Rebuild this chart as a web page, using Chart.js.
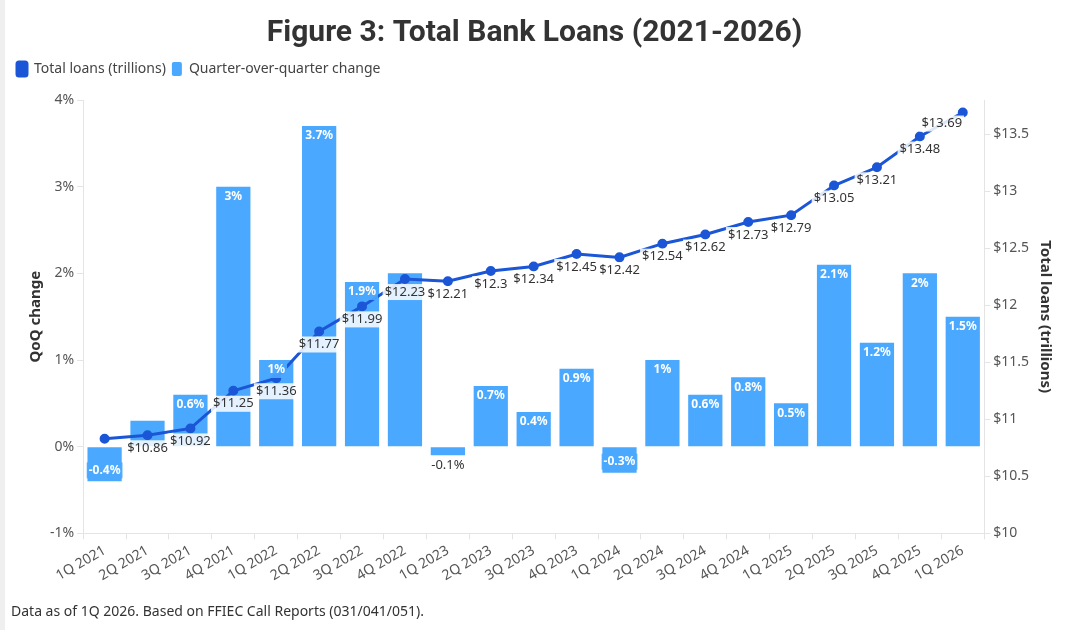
<!DOCTYPE html>
<html>
<head>
<meta charset="utf-8">
<script src="https://cdn.jsdelivr.net/npm/chart.js@4.4.1/dist/chart.umd.min.js"></script>
<style>
  body { margin: 0; background: #fff; }
  #wrap { width: 1070px; height: 630px; border-left: 5px solid #efefef; }
</style>
</head>
<body>
<div id="wrap"><canvas id="chart"></canvas></div>
<script>
const quarters = ['1Q 2021', '2Q 2021', '3Q 2021', '4Q 2021', '1Q 2022', '2Q 2022', '3Q 2022', '4Q 2022',
    '1Q 2023', '2Q 2023', '3Q 2023', '4Q 2023', '1Q 2024', '2Q 2024', '3Q 2024', '4Q 2024',
    '1Q 2025', '2Q 2025', '3Q 2025', '4Q 2025', '1Q 2026'];
const totalLoans = [10.83, 10.86, 10.92, 11.25, 11.36, 11.77, 11.99, 12.23, 12.21, 12.3, 12.34, 12.45,
    12.42, 12.54, 12.62, 12.73, 12.79, 13.05, 13.21, 13.48, 13.69];
const qoqChange = [-0.4, 0.3, 0.6, 3, 1, 3.7, 1.9, 2, -0.1, 0.7, 0.4, 0.9,
    -0.3, 1, 0.6, 0.8, 0.5, 2.1, 1.2, 2, 1.5];

const lineColor = '#1a56d6';
const barColor = '#4aa8ff';
const bodyFont = "'Noto Sans', 'Open Sans', sans-serif";

// a bit more room between the legend and the plot
const legendGap = {
    id: 'legendGap',
    beforeInit(chart) {
        const fit = chart.legend.fit;
        chart.legend.fit = function () {
            fit.call(this);
            this.height += 14;
        };
    }
};

// draws the value labels; line labels win when they overlap a bar label
const valueLabels = {
    id: 'valueLabels',
    afterDatasetsDraw(chart) {
        const ctx = chart.ctx;
        const lineMeta = chart.getDatasetMeta(0);
        const barMeta = chart.getDatasetMeta(1);
        const boxes = [];
        const hit = (b) => boxes.some(o => b.x1 < o.x2 && b.x2 > o.x1 && b.y1 < o.y2 && b.y2 > o.y1);

        ctx.save();
        ctx.textAlign = 'center';
        ctx.textBaseline = 'middle';

        const lineLabels = [];
        ctx.font = '13px ' + bodyFont;
        lineMeta.data.forEach((pt, i) => {
            if (i === 0) return;
            const text = '$' + totalLoans[i];
            let x = pt.x, y = pt.y + 13;
            if (i === lineMeta.data.length - 1) { x = pt.x - 21; y = pt.y + 11; }
            const w = ctx.measureText(text).width + 4;
            boxes.push({ x1: x - w / 2, x2: x + w / 2, y1: y - 9, y2: y + 9 });
            lineLabels.push({ text, x, y, w });
        });

        barMeta.data.forEach((bar, i) => {
            const v = qoqChange[i];
            const text = v + '%';
            ctx.font = 'bold 12px ' + bodyFont;
            const w = ctx.measureText(text).width + 4;
            let y, inside = true;
            if (Math.abs(v) < 0.2) { y = bar.y + 10; inside = false; }
            else if (v < 0) { y = bar.y - 11; }
            else { y = bar.y + 10; }
            const b = { x1: bar.x - w / 2, x2: bar.x + w / 2, y1: y - 9, y2: y + 9 };
            if (hit(b)) return;
            if (inside) {
                ctx.fillStyle = 'rgba(74,168,255,0.9)';
                ctx.fillRect(bar.x - w / 2, y - 8, w, 16);
                ctx.fillStyle = '#fff';
            } else {
                ctx.fillStyle = '#333';
                ctx.font = '13px ' + bodyFont;
            }
            ctx.fillText(text, bar.x, y);
        });

        ctx.font = '13px ' + bodyFont;
        lineLabels.forEach(l => {
            ctx.fillStyle = 'rgba(255,255,255,0.85)';
            ctx.fillRect(l.x - l.w / 2, l.y - 8, l.w, 16);
            ctx.fillStyle = '#333';
            ctx.fillText(l.text, l.x, l.y);
        });
        ctx.restore();
    }
};

new Chart(document.getElementById('chart'), {
    type: 'bar',
    data: {
        labels: quarters,
        datasets: [{
            type: 'line',
            label: 'Total loans (trillions)',
            data: totalLoans,
            yAxisID: 'y1',
            borderColor: lineColor,
            backgroundColor: lineColor,
            borderWidth: 3,
            pointRadius: 3.5,
            pointBackgroundColor: lineColor,
            order: 0
        }, {
            label: 'Quarter-over-quarter change',
            data: qoqChange,
            yAxisID: 'y',
            backgroundColor: barColor,
            barPercentage: 0.95,
            categoryPercentage: 0.84,
            order: 1
        }]
    },
    options: {
        responsive: true,
        maintainAspectRatio: false,
        animation: false,
        layout: { padding: { left: 6, right: 17, top: 4, bottom: 6 } },
        plugins: {
            title: {
                display: true,
                text: 'Figure 3: Total Bank Loans (2021-2026)',
                color: '#333',
                font: { family: "'Roboto', sans-serif", size: 30, weight: 'bold' },
                padding: { top: 11, bottom: 5 }
            },
            subtitle: {
                display: true,
                position: 'bottom',
                align: 'start',
                text: 'Data as of 1Q 2026. Based on FFIEC Call Reports (031/041/051).',
                color: '#333',
                font: { family: bodyFont, size: 14 },
                padding: { top: 16, bottom: 4 }
            },
            legend: {
                align: 'start',
                labels: {
                    boxWidth: 10,
                    boxHeight: 14,
                    useBorderRadius: true,
                    borderRadius: 2,
                    padding: 6,
                    color: '#444',
                    font: { family: bodyFont, size: 14 }
                }
            },
            tooltip: { enabled: false }
        },
        scales: {
            x: {
                grid: { drawOnChartArea: false, tickLength: 6, color: '#e4e4e4' },
                border: { color: '#e4e4e4' },
                ticks: { minRotation: 30, maxRotation: 30, color: '#555', font: { family: bodyFont, size: 14 } }
            },
            y: {
                position: 'left',
                min: -1,
                max: 4,
                grid: { drawOnChartArea: false, tickLength: 6, color: '#e4e4e4' },
                border: { color: '#e4e4e4' },
                ticks: { stepSize: 1, color: '#555', font: { family: bodyFont, size: 14 }, callback: v => v + '%' },
                title: {
                    display: true, text: 'QoQ change', color: '#333', padding: { top: 16, bottom: 2 },
                    font: { family: bodyFont, size: 15, weight: 'bold' }
                }
            },
            y1: {
                position: 'right',
                min: 10,
                max: 13.8,
                grid: { drawOnChartArea: false, tickLength: 6, color: '#e4e4e4' },
                border: { color: '#e4e4e4' },
                afterBuildTicks: s => { s.ticks = s.ticks.filter(t => Math.abs(t.value * 2 - Math.round(t.value * 2)) < 1e-9); },
                ticks: { stepSize: 0.5, color: '#555', font: { family: bodyFont, size: 14 }, callback: v => '$' + v },
                title: { display: true, text: 'Total loans (trillions)', color: '#333', font: { family: bodyFont, size: 15, weight: 'bold' } }
            }
        }
    },
    plugins: [legendGap, valueLabels]
});
</script>
</body>
</html>
